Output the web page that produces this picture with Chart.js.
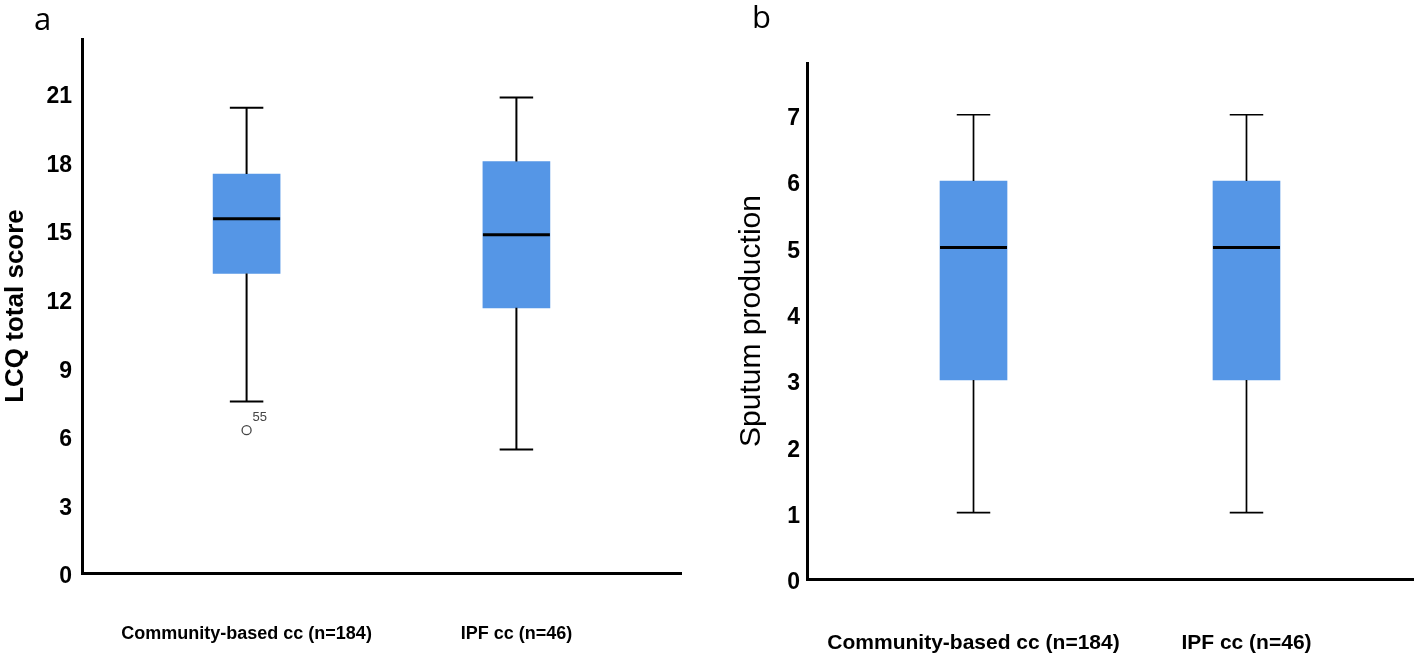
<!DOCTYPE html>
<html>
<head>
<meta charset="utf-8">
<script src="https://cdn.jsdelivr.net/npm/chart.js@4.4.1/dist/chart.umd.min.js"></script>
<style>
  body { margin: 0; background: #ffffff; }
  #pagina { position: relative; width: 1415px; height: 658px; overflow: hidden; }
  canvas { position: absolute; top: 0; }
  .letra { position: absolute; font-family: "Open Sans", sans-serif; font-size: 31px; color: #000; line-height: 1; }
</style>
</head>
<body>
<div id="pagina">
  <canvas id="grafico-lcq" width="705" height="658" style="left:0"></canvas>
  <canvas id="grafico-sputum" width="710" height="658" style="left:705px"></canvas>
  <div class="letra" style="left:34px; top:3px">a</div>
  <div class="letra" style="left:752px; top:1px">b</div>
</div>
<script>
const categorias = ['Community-based cc (n=184)', 'IPF cc (n=46)'];

// LCQ total score (a)
const lcqMin = [7.5, 5.4];
const lcqQ1 = [13.1, 11.6];
const lcqMediana = [15.5, 14.8];
const lcqQ3 = [17.45, 18.0];
const lcqMax = [20.35, 20.8];
const lcqOutlierCat = [0];
const lcqOutlierValor = [6.25];
const lcqOutlierRotulo = ['55'];
const lcqTicks = [0, 3, 6, 9, 12, 15, 18, 21];

// Sputum production (b)
const sputumMin = [1, 1];
const sputumQ1 = [3, 3];
const sputumMediana = [5, 5];
const sputumQ3 = [6, 6];
const sputumMax = [7, 7];
const sputumTicks = [0, 1, 2, 3, 4, 5, 6, 7];

const corCaixa = '#5596e6';

const pluginCaixas = {
  id: 'caixas',
  afterDatasetsDraw(chart, args, opts) {
    const ctx = chart.ctx;
    const x = chart.scales.x;
    const y = chart.scales.y;
    ctx.save();
    ctx.strokeStyle = '#000';
    for (let i = 0; i < opts.mediana.length; i++) {
      const cx = x.getPixelForValue(i + 1);
      const meia = opts.largura / 2;
      const cap = opts.largura / 4;
      // bigodes
      ctx.lineWidth = opts.linhaBigode;
      ctx.beginPath();
      ctx.moveTo(cx, y.getPixelForValue(opts.q3[i]));
      ctx.lineTo(cx, y.getPixelForValue(opts.max[i]));
      ctx.moveTo(cx - cap, y.getPixelForValue(opts.max[i]));
      ctx.lineTo(cx + cap, y.getPixelForValue(opts.max[i]));
      ctx.moveTo(cx, y.getPixelForValue(opts.q1[i]));
      ctx.lineTo(cx, y.getPixelForValue(opts.min[i]));
      ctx.moveTo(cx - cap, y.getPixelForValue(opts.min[i]));
      ctx.lineTo(cx + cap, y.getPixelForValue(opts.min[i]));
      ctx.stroke();
      // mediana
      ctx.lineWidth = 3;
      ctx.beginPath();
      ctx.moveTo(cx - meia, y.getPixelForValue(opts.mediana[i]));
      ctx.lineTo(cx + meia, y.getPixelForValue(opts.mediana[i]));
      ctx.stroke();
    }
    // rotulos dos outliers
    if (opts.rotulos) {
      const meta = chart.getDatasetMeta(1);
      ctx.fillStyle = '#444';
      ctx.font = '13px "Liberation Sans", Arial, sans-serif';
      ctx.textBaseline = 'middle';
      meta.data.forEach((p, k) => {
        ctx.fillText(opts.rotulos[k], p.x + 6, p.y - 13);
      });
    }
    ctx.restore();
  }
};

function criarBoxplot(idCanvas, cfg) {
  const ctx = document.getElementById(idCanvas);
  const datasets = [
    {
      type: 'bar',
      data: categorias.map((c, i) => ({ x: i + 1, y: [cfg.q1[i], cfg.q3[i]] })),
      backgroundColor: corCaixa,
      borderWidth: 0,
      barThickness: 67
    }
  ];
  if (cfg.outlierValor) {
    datasets.push({
      type: 'scatter',
      data: cfg.outlierValor.map((v, k) => ({ x: cfg.outlierCat[k] + 1, y: v })),
      pointStyle: 'circle',
      pointRadius: 4.5,
      borderColor: '#444',
      backgroundColor: '#fff',
      borderWidth: 1.3
    });
  }

  new Chart(ctx, {
    type: 'bar',
    data: { datasets: datasets },
    plugins: [pluginCaixas],
    options: {
      responsive: false,
      animation: false,
      layout: { padding: cfg.padding },
      plugins: {
        legend: { display: false },
        tooltip: { enabled: false },
        caixas: {
          min: cfg.min, q1: cfg.q1, mediana: cfg.mediana, q3: cfg.q3, max: cfg.max,
          largura: 67, linhaBigode: cfg.linhaBigode, rotulos: cfg.rotulos
        }
      },
      scales: {
        x: {
          type: 'linear',
          min: 0.39,
          max: 2.61,
          offset: false,
          grid: { display: false, drawTicks: false },
          border: { display: true, color: '#000', width: 3 },
          afterBuildTicks: s => { s.ticks = categorias.map((c, i) => ({ value: i + 1 })); },
          afterFit: s => { s.height = cfg.alturaX; },
          ticks: {
            autoSkip: false,
            maxRotation: 0,
            padding: cfg.paddingX,
            color: '#000',
            font: { family: '"Liberation Sans", Arial, sans-serif', size: cfg.fonteX, weight: 'bold' },
            callback: v => categorias[Math.round(v) - 1] || ''
          }
        },
        y: {
          min: 0,
          max: cfg.yMax,
          grid: { display: false, drawTicks: false },
          border: { display: true, color: '#000', width: 3 },
          afterBuildTicks: s => { s.ticks = cfg.ticks.map(v => ({ value: v })); },
          afterFit: s => { s.width = cfg.larguraY; },
          ticks: {
            padding: cfg.paddingY,
            labelOffset: 4,
            color: '#000',
            font: { family: '"Liberation Sans", Arial, sans-serif', size: 23, weight: 'bold' }
          },
          title: {
            display: true,
            text: cfg.tituloY,
            color: '#000',
            padding: { top: cfg.paddingTitulo, bottom: 0 },
            font: { family: '"Liberation Sans", Arial, sans-serif', size: cfg.fonteTitulo, weight: cfg.pesoTitulo }
          }
        }
      }
    }
  });
}

criarBoxplot('grafico-lcq', {
  min: lcqMin, q1: lcqQ1, mediana: lcqMediana, q3: lcqQ3, max: lcqMax,
  outlierCat: lcqOutlierCat, outlierValor: lcqOutlierValor, rotulos: lcqOutlierRotulo,
  ticks: lcqTicks, yMax: 23.36,
  tituloY: 'LCQ total score', fonteTitulo: 26, pesoTitulo: 'bold', paddingTitulo: 0,
  padding: { top: 39, right: 24, left: 0, bottom: 0 },
  larguraY: 82, alturaX: 85, paddingY: 10, paddingX: 50, fonteX: 18, linhaBigode: 2
});

criarBoxplot('grafico-sputum', {
  min: sputumMin, q1: sputumQ1, mediana: sputumMediana, q3: sputumQ3, max: sputumMax,
  ticks: sputumTicks, yMax: 7.78,
  tituloY: 'Sputum production', fonteTitulo: 30, pesoTitulo: 'normal', paddingTitulo: 29,
  padding: { top: 63, right: 2, left: 0, bottom: 0 },
  larguraY: 102, alturaX: 79, paddingY: 7, paddingX: 52, fonteX: 21, linhaBigode: 1.7
});
</script>
</body>
</html>
